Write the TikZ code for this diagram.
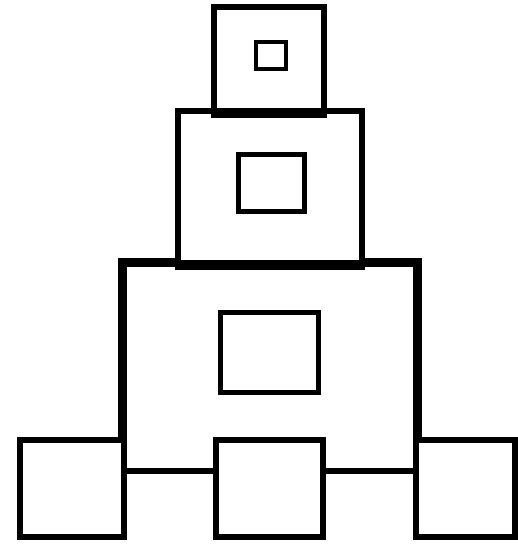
\documentclass[tikz,border=0pt]{standalone}
\begin{document}
\begin{tikzpicture}[x=1pt,y=-1pt,
  outerbox/.style={draw=black,fill=white,line width=6.5pt,inner sep=0pt,minimum width=#1},
  innerbox/.style={draw=black,fill=white,line width=5pt,inner sep=0pt},
  tinybox/.style={draw=black,fill=white,line width=4pt,inner sep=0pt}]
\useasboundingbox[fill=white] (0,0) rectangle (518,546);
% large base box
\node[outerbox=292pt, minimum height=207pt, line width=5.5pt] (base) at (270,367.5) {};
\draw[line width=6.5pt] (base.south west) -- (base.north west) -- (base.north east) -- (base.south east);
% middle box
\node[outerbox=184pt, minimum height=152pt] (mid) at (270,187) {};
% top box
\node[outerbox=110pt, minimum height=104pt] (top) at (269,59) {};
% redraw shared edges
\draw[line width=6.5pt] (mid.south west) -- (mid.south east);
\draw[line width=6.5pt] (top.south west) -- (top.south east);
% inner squares
\node[tinybox, minimum width=30pt, minimum height=27pt] (ti) at (271,55) {};
\node[innerbox, minimum width=66pt, minimum height=57pt] (mi) at (271,182.5) {};
\node[innerbox, minimum width=98pt, minimum height=80pt] (bi) at (269,352) {};
% bottom boxes
\node[outerbox=104pt, minimum height=97pt] (bl) at (72,488.5) {};
\node[outerbox=107pt, minimum height=97pt] (bm) at (269.5,488.5) {};
\node[outerbox=99pt, minimum height=97pt] (br) at (465.5,488.5) {};
\end{tikzpicture}
\end{document}
